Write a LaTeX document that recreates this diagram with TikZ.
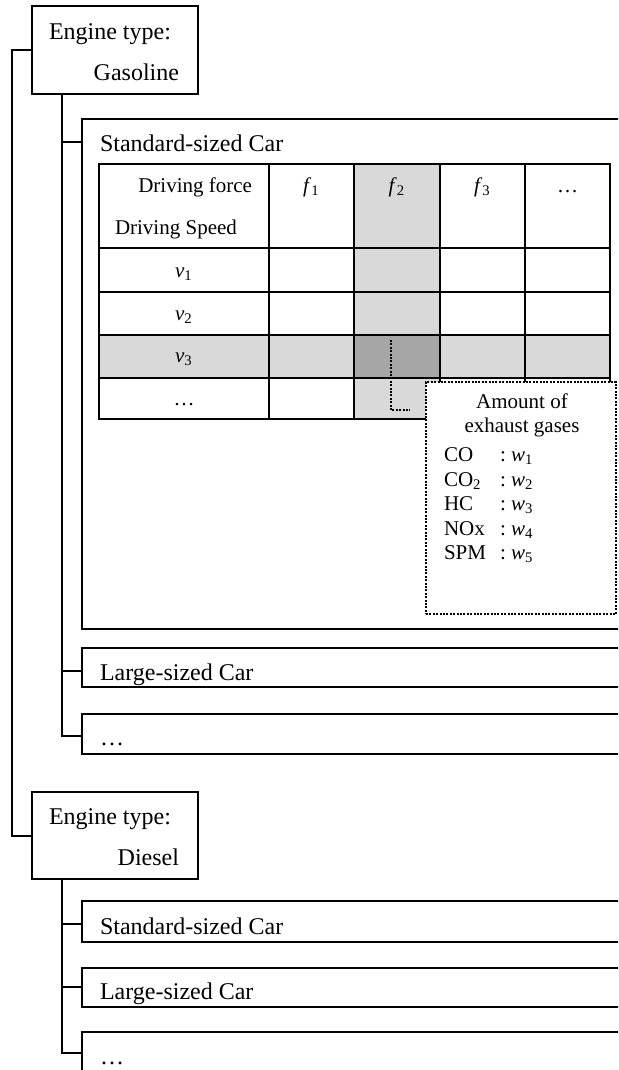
\documentclass[tikz,border=0pt]{standalone}
\usepackage{fontspec}
\setmainfont{Liberation Serif}
\begin{document}
\begin{tikzpicture}[x=0.5pt,y=-0.5pt,line width=1pt,
  box/.style={draw,rectangle,anchor=north west,inner sep=0pt,outer sep=0pt},
  big/.style={inner sep=0pt,anchor=base west,font=\fontsize{12}{14}\selectfont},
  small/.style={inner sep=0pt,anchor=base,font=\fontsize{10.5}{12}\selectfont},
  dotline/.style={line width=1pt,dash pattern=on 1pt off 0.7pt}]
\useasboundingbox (0,0) rectangle (618,1070);
\clip (0,0) rectangle (618,1070);
% engine boxes
\node[box,minimum width=83pt,minimum height=44pt] (gas) at (32,6) {};
\node[box,minimum width=83pt,minimum height=43.5pt] (dsl) at (32,792) {};
% car boxes
\node[box,minimum width=280pt,minimum height=255pt] (stdA) at (82,119) {};
\node[box,minimum width=280pt,minimum height=19.5pt] (lrgA) at (82,648) {};
\node[box,minimum width=280pt,minimum height=20pt] (dotA) at (82,714) {};
\node[box,minimum width=280pt,minimum height=20.5pt] (stdB) at (82,901) {};
\node[box,minimum width=280pt,minimum height=19.5pt] (lrgB) at (82,968) {};
\node[box,minimum width=280pt,minimum height=40pt] (dotB) at (82,1032) {};
% tree connectors
\draw (gas.west) -- ++(-20,0) |- (dsl.west);
\coordinate (tA) at ([xshift=15pt]gas.south west);
\draw (tA) |- ([yshift=-11.5pt]stdA.north west);
\draw (tA) |- ([yshift=-11.5pt]lrgA.north west);
\draw (tA) |- ([yshift=-11pt]dotA.north west);
\coordinate (tB) at ([xshift=15pt]dsl.south west);
\draw (tB) |- ([yshift=-11.5pt]stdB.north west);
\draw (tB) |- ([yshift=-9.5pt]lrgB.north west);
\draw (tB) |- ([yshift=-10.5pt]dotB.north west);
% labels
\node[big] (l1) at (48,39.5) {Engine type:};
\node[big,anchor=base east] (l2) at (180,80.5) {Gasoline};
\node[big] (l3) at (48,824.5) {Engine type:};
\node[big,anchor=base east] (l4) at (180,865) {Diesel};
\node[big] (l5) at (99,151.5) {Standard-sized Car};
\node[big] (l6) at (99,680) {Large-sized Car};
\node[big] (l7) at (99,745) {…};
\node[big] (l8) at (99,934) {Standard-sized Car};
\node[big] (l9) at (99,999) {Large-sized Car};
\node[big] (l10) at (99,1064) {…};
% table shading
\fill[black!15] (354,164) rectangle (440,419);
\fill[black!15] (99,335) rectangle (610,378);
\fill[black!35] (354,335) rectangle (440,378);
% table grid
\draw (99,164) rectangle (610,419);
\foreach \yy in {248,292,335,378} \draw (99,\yy) -- (610,\yy);
\foreach \xx in {269,354,440,525} \draw (\xx,164) -- (\xx,419);
% table texts
\node[small,anchor=base east] (h1) at (253,192) {Driving force};
\node[small,anchor=base west] (h2) at (114,234) {Driving Speed};
\node[small] (c1) at (311.5,192) {\textit{f}\textsubscript{1}};
\node[small] (c2) at (397,192) {\textit{f}\textsubscript{2}};
\node[small] (c3) at (482.5,192) {\textit{f}\textsubscript{3}};
\node[small] (c4) at (567.5,192) {…};
\node[small] (r1) at (184,277) {\textit{v}\textsubscript{1}};
\node[small] (r2) at (184,320) {\textit{v}\textsubscript{2}};
\node[small] (r3) at (184,362) {\textit{v}\textsubscript{3}};
\node[small] (r4) at (184,405) {…};
% exhaust gases box
\coordinate (dS) at (391,340);
\coordinate (dE) at (410,410);
\draw[dotline] (dS) |- (dE);
\node[box,draw,dotline,fill=white,minimum width=95pt,minimum height=116pt] (gbox) at (426,382) {};
\node[small] (g1) at (522,408) {Amount of};
\node[small] (g2) at (522,432) {exhaust gases};
\foreach \nm/\ii/\yy in {CO/1/461,CO\textsubscript{2}/2/486,HC/3/510,NOx/4/535,SPM/5/559}{
  \node[small,anchor=base west] at (443,\yy) {\nm};
  \node[small,anchor=base west] at (499,\yy) {:~\textit{w}\textsubscript{\ii}};
}
\end{tikzpicture}
\end{document}
